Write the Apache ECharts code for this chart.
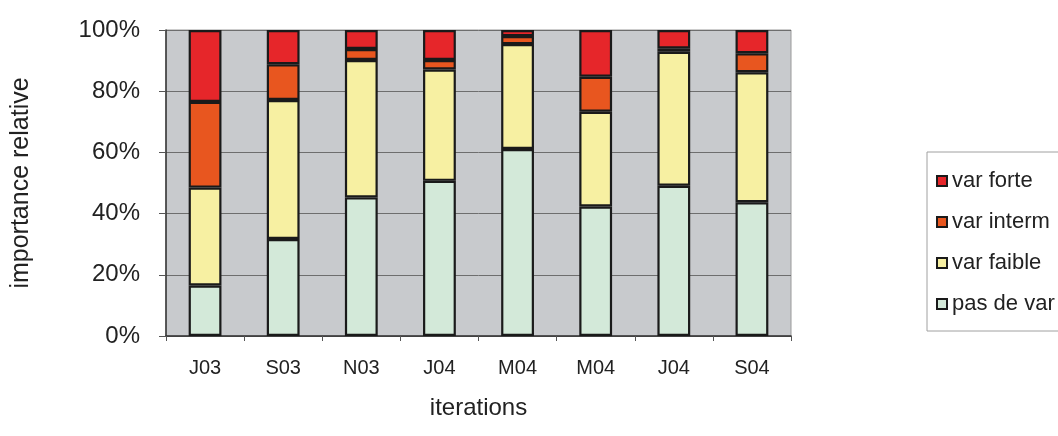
<!DOCTYPE html>
<html>
<head>
<meta charset="utf-8">
<script src="https://cdn.jsdelivr.net/npm/echarts@6/dist/echarts.min.js"></script>
<style>
  html, body { margin: 0; padding: 0; background: #ffffff; }
  #chart { width: 1058px; height: 436px; }
</style>
</head>
<body>
<div id="chart"></div>
<script>
// iterations
const categories = ['J03', 'S03', 'N03', 'J04', 'M04', 'M04', 'J04', 'S04']
const yTicks = [0, 20, 40, 60, 80, 100]

// parts en %
const pasDeVar = [16.5, 31.7, 45.3, 50.7, 61.1, 42.3, 49.1, 43.7]
const varFaible = [32.0, 45.4, 44.9, 36.4, 34.3, 31.0, 43.8, 42.5]
const varInterm = [28.0, 11.7, 3.6, 3.1, 2.6, 11.4, 1.1, 6.2]
const varForte = [23.5, 11.2, 6.2, 9.8, 2.0, 15.3, 6.0, 7.6]

const names = ['pas de var', 'var faible', 'var interm', 'var forte']
const colors = ['#d3e9d9', '#f7f0a2', '#e8561f', '#e6262a']
const values = [pasDeVar, varFaible, varInterm, varForte]

const font = 'Liberation Sans, Arial, sans-serif'
const chart = echarts.init(document.getElementById('chart'))

const series = names.map((name, i) => ({
  name: name,
  type: 'bar',
  stack: 'total',
  barWidth: '42%',
  itemStyle: {
    color: colors[i],
    borderColor: '#1a1a1a',
    borderWidth: 2.2
  },
  data: values[i]
}))

const option = {
  animation: false,
  backgroundColor: '#ffffff',
  textStyle: { fontFamily: font },
  grid: {
    left: 166,
    right: 267,
    top: 30,
    bottom: 100,
    show: true,
    backgroundColor: '#c8cacd',
    borderColor: '#9a9a9a',
    borderWidth: 1
  },
  legend: {
    orient: 'vertical',
    left: 927,
    top: 152,
    data: ['var forte', 'var interm', 'var faible', 'pas de var'],
    icon: 'rect',
    itemWidth: 10,
    itemHeight: 10,
    itemGap: 19,
    padding: [18, 40, 16, 9],
    borderColor: '#a0a0a0',
    borderWidth: 1,
    textStyle: {
      fontFamily: font,
      fontSize: 22,
      lineHeight: 20,
      color: '#222222'
    }
  },
  xAxis: {
    type: 'category',
    data: categories,
    name: 'iterations',
    nameLocation: 'middle',
    nameGap: 60,
    nameTextStyle: { fontFamily: font, fontSize: 24, color: '#222222' },
    axisLine: { lineStyle: { color: '#333333', width: 1.5 } },
    axisTick: { show: true, length: 5, lineStyle: { color: '#555555' } },
    axisLabel: { fontFamily: font, fontSize: 20, color: '#222222', margin: 22 }
  },
  yAxis: {
    type: 'value',
    min: yTicks[0],
    max: yTicks[yTicks.length - 1],
    interval: 20,
    name: 'importance relative',
    nameLocation: 'middle',
    nameGap: 132,
    nameTextStyle: { fontFamily: font, fontSize: 25, color: '#222222' },
    axisLine: { show: true, lineStyle: { color: '#333333', width: 1.5 } },
    axisTick: { show: true, length: 7, lineStyle: { color: '#555555' } },
    axisLabel: {
      fontFamily: font,
      fontSize: 24,
      color: '#222222',
      margin: 26,
      formatter: '{value}%'
    },
    splitLine: { lineStyle: { color: '#6e6e6e', width: 1 } }
  },
  series: series
}

chart.setOption(option)
</script>
</body>
</html>
